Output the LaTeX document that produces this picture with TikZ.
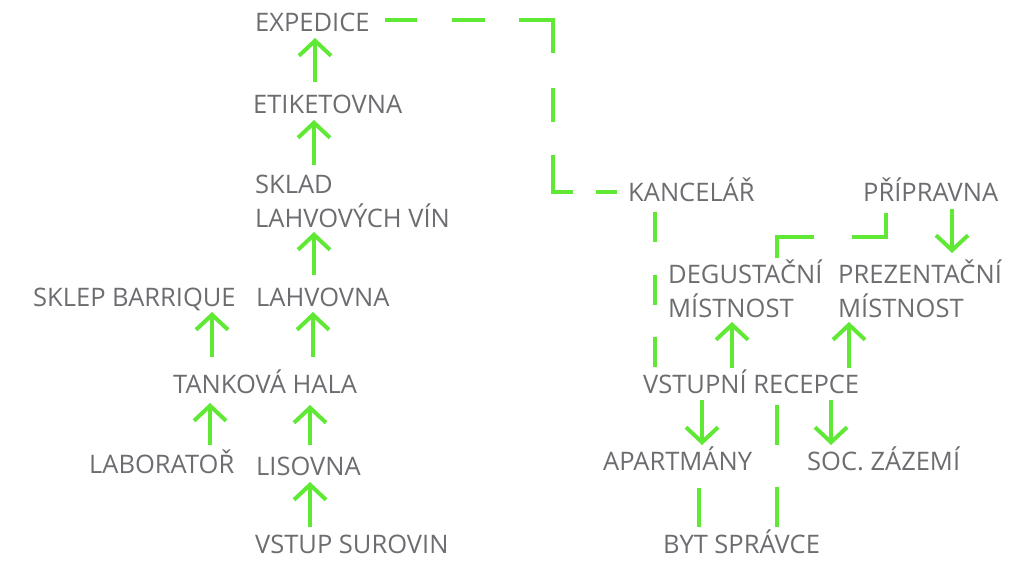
\documentclass[tikz,border=0pt]{standalone}
\usepackage{fontspec}
\setmainfont{Open Sans}
\usetikzlibrary{arrows.meta}
\definecolor{lbl}{RGB}{108,109,112}
\definecolor{grn}{RGB}{95,232,52}
\newcommand{\twoline}[2]{\begin{tabular}[t]{@{}l@{}}#1\\#2\end{tabular}}
\begin{document}
\begin{tikzpicture}[x=1pt,y=-1pt,
  lab/.style={font=\fontsize{25.5}{34}\selectfont, text=lbl, inner sep=0pt, anchor=base west},
  arr/.style={draw=grn, line width=4pt, -{Straight Barb[length=15pt,width=32pt]}},
  gline/.style={draw=grn, line width=4pt, line join=miter},
]
\useasboundingbox (0,0) rectangle (1027,563);
% left column
\node[lab] (exped) at (255,31) {EXPEDICE};
\node[lab] (etik)  at (253,113) {ETIKETOVNA};
\node[lab] (sklad) at (255,193) {\twoline{SKLAD}{LAHVOVÝCH VÍN}};
\node[lab] (lahv)  at (256,306) {LAHVOVNA};
\node[lab] (sklep) at (33,306) {SKLEP BARRIQUE};
\node[lab] (tank)  at (173,393) {TANKOVÁ HALA};
\node[lab] (labo)  at (89,473) {LABORATOŘ};
\node[lab] (lis)   at (256,475) {LISOVNA};
\node[lab] (vstup) at (255,553) {VSTUP SUROVIN};
% right column
\node[lab] (kanc)  at (628,201) {KANCELÁŘ};
\node[lab] (prip)  at (863,201) {PŘÍPRAVNA};
\node[lab] (degus) at (668,283) {\twoline{DEGUSTAČNÍ}{MÍSTNOST}};
\node[lab] (prez)  at (838,283) {\twoline{PREZENTAČNÍ}{MÍSTNOST}};
\node[lab] (recep) at (643,393) {VSTUPNÍ RECEPCE};
\node[lab] (apart) at (603,470) {APARTMÁNY};
\node[lab] (soc)   at (807,470) {SOC. ZÁZEMÍ};
\node[lab] (byt)   at (663,553) {BYT SPRÁVCE};
% left arrows
\draw[arr] ([shift={(62,-31)}]etik.base west) -- ([shift={(60,7)}]exped.base west);
\draw[arr] ([shift={(59,-28)}]sklad.base west) -- ([shift={(61,7)}]etik.base west);
\draw[arr] ([shift={(58,-31)}]lahv.base west) -- ([shift={(59,39)}]sklad.base west);
\draw[arr] ([shift={(39,-36)}]tank.base west) -- ([shift={(179,6)}]sklep.base west);
\draw[arr] ([shift={(140,-36)}]tank.base west) -- ([shift={(57,6)}]lahv.base west);
\draw[arr] ([shift={(121,-28)}]labo.base west) -- ([shift={(37,10)}]tank.base west);
\draw[arr] ([shift={(54,-30)}]lis.base west) -- ([shift={(137,12)}]tank.base west);
\draw[arr] ([shift={(55,-26)}]vstup.base west) -- ([shift={(54,7)}]lis.base west);
% right arrows
\draw[arr] ([shift={(89,8)}]prip.base west) -- ([shift={(114,-30)}]prez.base west);
\draw[arr] ([shift={(89,-25)}]recep.base west) -- ([shift={(64,39)}]degus.base west);
\draw[arr] ([shift={(206,-25)}]recep.base west) -- ([shift={(11,39)}]prez.base west);
\draw[arr] ([shift={(59,7)}]recep.base west) -- ([shift={(99,-25)}]apart.base west);
\draw[arr] ([shift={(188,7)}]recep.base west) -- ([shift={(24,-25)}]soc.base west);
% dashed connectors
\draw[gline, dash pattern={on 32pt off 35pt on 33pt off 34pt on 67pt off 35pt on 34pt off 33pt on 57pt off 23pt on 21pt off 100pt}]
  ([shift={(130,-11)}]exped.base west) -- ++(168,0) |- ([shift={(-11,-9)}]kanc.base west);
\draw[gline, dash pattern={on 30pt off 32.5pt}]
  ([shift={(27,11)}]kanc.base west) -- ([shift={(12,-26)}]recep.base west);
\draw[gline, dash pattern={on 58pt off 38pt}]
  ([shift={(109,-25)}]degus.base west) -- ++(0,-21) -| ([shift={(23,12)}]prip.base west);
\draw[gline, dash pattern={on 40pt off 42pt}]
  ([shift={(134,12)}]recep.base west) -- ([shift={(114,-26)}]byt.base west);
\draw[gline] ([shift={(96,18)}]apart.base west) -- ([shift={(36,-26)}]byt.base west);
\end{tikzpicture}
\end{document}
